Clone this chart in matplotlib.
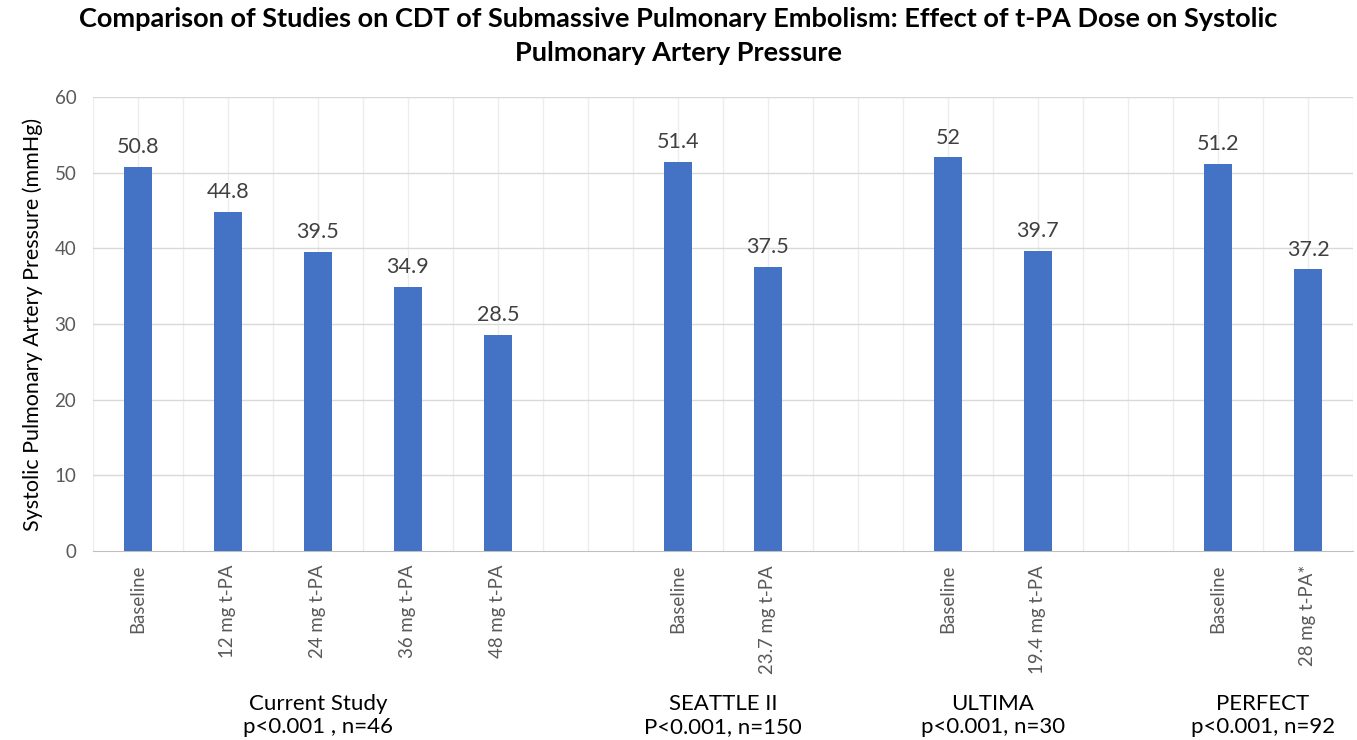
import matplotlib.pyplot as plt

# slot positions of bars (empty slots separate the studies)
positions = [0, 1, 2, 3, 4, 6, 7, 9, 10, 12, 13]
labels = ['Baseline', '12 mg t-PA', '24 mg t-PA', '36 mg t-PA', '48 mg t-PA',
          'Baseline', '23.7 mg t-PA',
          'Baseline', '19.4 mg t-PA',
          'Baseline', '28 mg t-PA*']
values = [50.8, 44.8, 39.5, 34.9, 28.5, 51.4, 37.5, 52, 39.7, 51.2, 37.2]
value_text = ['50.8', '44.8', '39.5', '34.9', '28.5', '51.4', '37.5', '52', '39.7', '51.2', '37.2']

groups = ['Current Study\np<0.001 , n=46', 'SEATTLE II\nP<0.001, n=150',
          'ULTIMA\np<0.001, n=30', 'PERFECT\np<0.001, n=92']
group_centers = [2, 6.5, 9.5, 12.5]

plt.rcParams['font.family'] = ['Lato', 'DejaVu Sans']

fig = plt.figure(figsize=(13.57, 7.40), dpi=100)
ax = fig.add_axes([0.0685, 0.2554, 0.9285, 0.6136])

# grid
for i in range(29):
    ax.axvline(-0.5 + i * 0.5, color='#ededed', lw=1, zorder=0)
for y in range(10, 61, 10):
    ax.axhline(y, color='#d9d9d9', lw=1, zorder=0)

ax.bar(positions, values, width=0.31, color='#4472C4', zorder=3)
for x, v, t in zip(positions, values, value_text):
    ax.text(x, v + 1.3, t, ha='center', va='bottom', fontsize=15.5, color='#404040')

ax.set_xlim(-0.5, 13.5)
ax.set_ylim(0, 60)
ax.set_yticks(range(0, 61, 10))
ax.tick_params(axis='y', length=0, labelsize=13.5, labelcolor='#595959', pad=12)
ax.set_xticks(positions)
ax.set_xticklabels(labels, rotation=90, fontsize=13.4, color='#595959')
ax.tick_params(axis='x', length=0, pad=10)
for s in ['top', 'left', 'right']:
    ax.spines[s].set_visible(False)
ax.spines['bottom'].set_color('#bfbfbf')

ax.set_ylabel('Systolic Pulmonary Artery Pressure (mmHg)', fontsize=15.5, labelpad=8)

for c, g in zip(group_centers, groups):
    ax.text(c, -18.9, g, ha='center', va='top', fontsize=16, linespacing=1.2,
            transform=ax.transData, clip_on=False)

fig.text(0.5, 0.99, 'Comparison of Studies on CDT of Submassive Pulmonary Embolism: Effect of t-PA Dose on Systolic\nPulmonary Artery Pressure',
         ha='center', va='top', fontsize=19.5, fontweight='bold', linespacing=1.5)

fig.savefig('out.png', dpi=100)
